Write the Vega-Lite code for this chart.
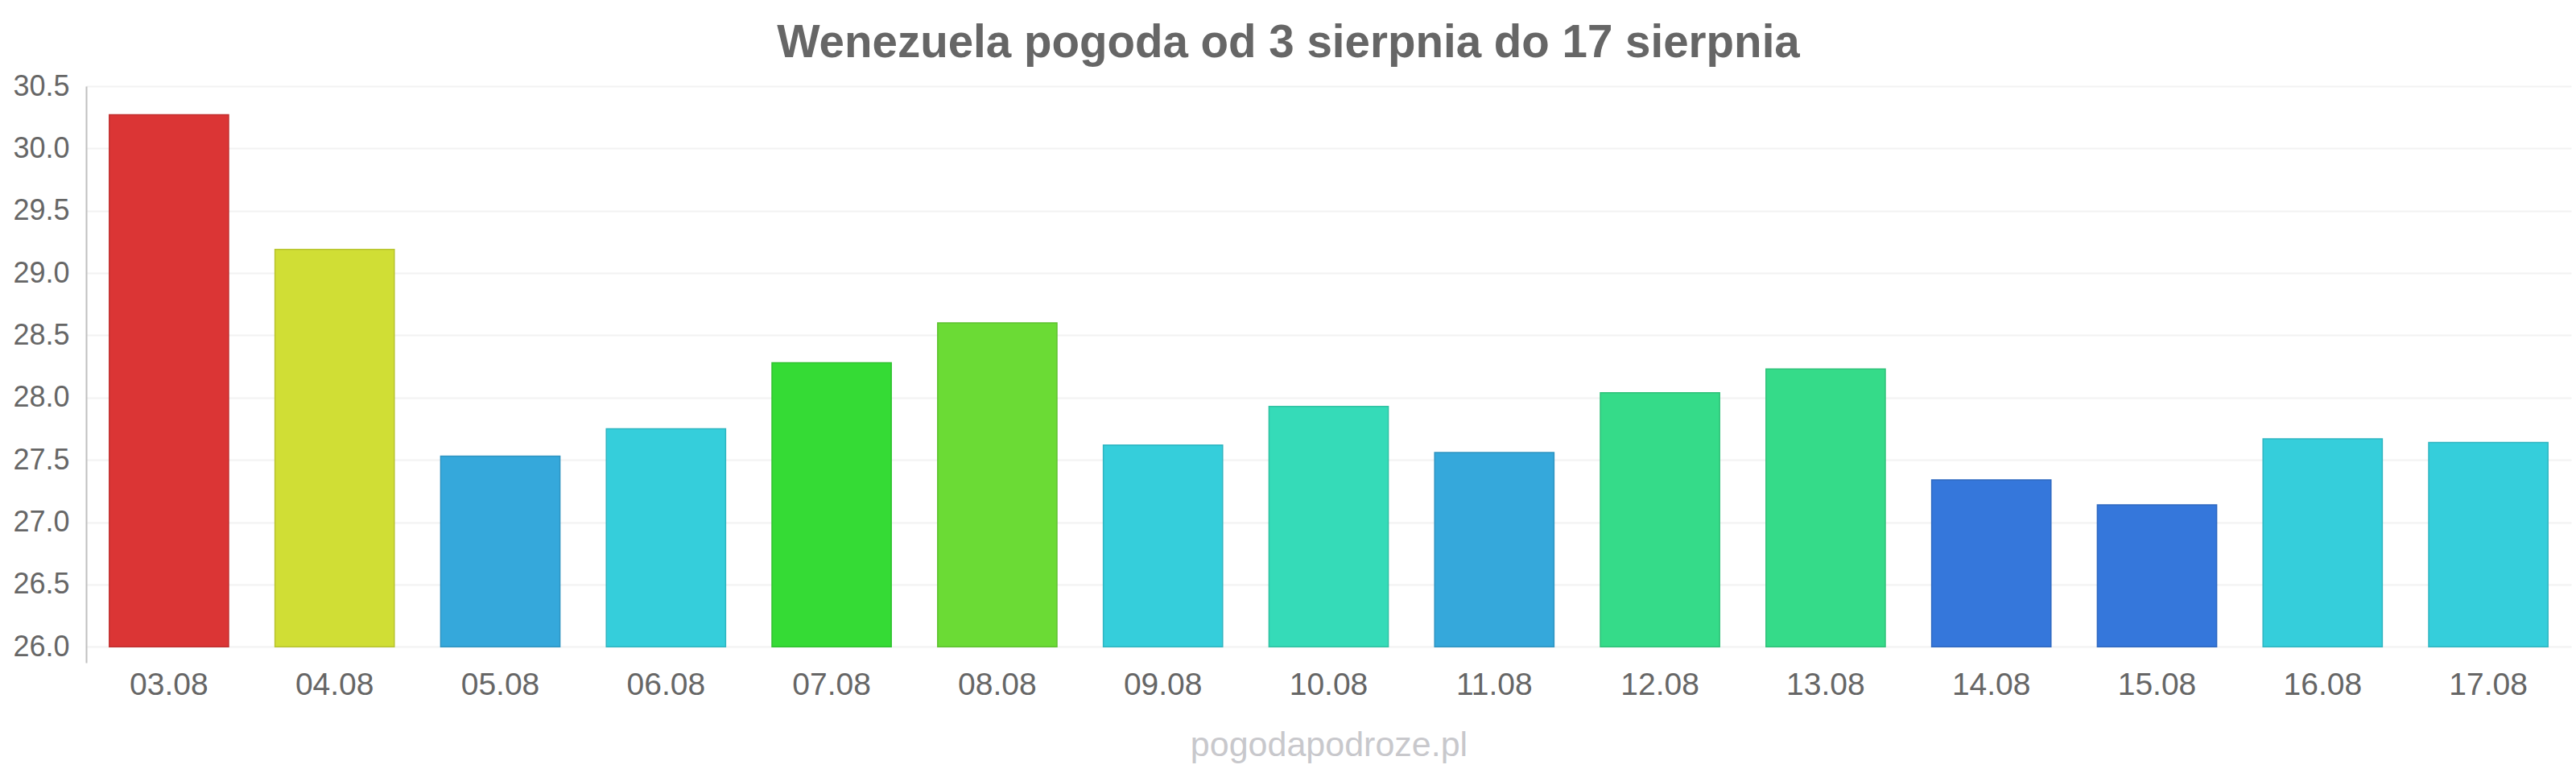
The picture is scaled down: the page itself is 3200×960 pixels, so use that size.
{
  "$schema": "https://vega.github.io/schema/vega-lite/v6.json",
  "width": 3087,
  "height": 716,
  "autosize": "none",
  "padding": {"left": 107, "top": 107, "right": 6, "bottom": 137},
  "background": "white",
  "title": {
    "text": "Wenezuela pogoda od 3 sierpnia do 17 sierpnia",
    "font": "Liberation Sans",
    "fontSize": 56.5,
    "fontWeight": "bold",
    "color": "#666666",
    "anchor": "middle",
    "frame": "group",
    "dx": -50,
    "baseline": "alphabetic",
    "offset": -38
  },
  "data": {
    "values": [
      {"date": "03.08", "temp": 30.27},
      {"date": "04.08", "temp": 29.19},
      {"date": "05.08", "temp": 27.53},
      {"date": "06.08", "temp": 27.75},
      {"date": "07.08", "temp": 28.28},
      {"date": "08.08", "temp": 28.60},
      {"date": "09.08", "temp": 27.62},
      {"date": "10.08", "temp": 27.93},
      {"date": "11.08", "temp": 27.56},
      {"date": "12.08", "temp": 28.04},
      {"date": "13.08", "temp": 28.23},
      {"date": "14.08", "temp": 27.34},
      {"date": "15.08", "temp": 27.14},
      {"date": "16.08", "temp": 27.67},
      {"date": "17.08", "temp": 27.64}
    ]
  },
  "mark": {"type": "bar", "strokeWidth": 1.5},
  "encoding": {
    "x": {
      "field": "date",
      "type": "nominal",
      "sort": null,
      "scale": {"paddingInner": 0.28, "paddingOuter": 0.14},
      "axis": {
        "title": "pogodapodroze.pl",
        "titleFont": "Liberation Sans",
        "titleFontSize": 43,
        "titleFontWeight": "normal",
        "titleColor": "#c8c8cc",
        "titlePadding": 34,
        "labelFont": "Liberation Sans",
        "labelFontSize": 39,
        "labelColor": "#666666",
        "labelAngle": 0,
        "labelPadding": 8,
        "ticks": false,
        "tickSize": 0,
        "domain": false,
        "grid": false
      }
    },
    "y": {
      "field": "temp",
      "type": "quantitative",
      "scale": {"domain": [25.873, 30.5], "nice": false, "zero": false},
      "axis": {
        "title": null,
        "values": [26, 26.5, 27, 27.5, 28, 28.5, 29, 29.5, 30, 30.5],
        "format": ".1f",
        "labelFont": "Liberation Sans",
        "labelFontSize": 36,
        "labelColor": "#666666",
        "labelPadding": 21,
        "ticks": false,
        "tickSize": 0,
        "domain": true,
        "domainColor": "#c0c0c0",
        "domainWidth": 2,
        "grid": true,
        "gridColor": "#f2f2f2",
        "gridWidth": 2
      }
    },
    "y2": {"datum": 26},
    "fill": {
      "field": "date",
      "type": "nominal",
      "legend": null,
      "scale": {
        "domain": ["03.08","04.08","05.08","06.08","07.08","08.08","09.08","10.08","11.08","12.08","13.08","14.08","15.08","16.08","17.08"],
        "range": ["#db3535","#d0de35","#35a8db","#35cedb","#35db35","#6bdb35","#35cedb","#35dbb8","#35a8db","#35db89","#35db89","#3577db","#3577db","#35cedb","#35cedb"]
      }
    },
    "stroke": {
      "field": "date",
      "type": "nominal",
      "legend": null,
      "scale": {
        "domain": ["03.08","04.08","05.08","06.08","07.08","08.08","09.08","10.08","11.08","12.08","13.08","14.08","15.08","16.08","17.08"],
        "range": ["#c12f2f","#b7c32f","#2f94c1","#2fb5c1","#2fc12f","#5ec12f","#2fb5c1","#2fc1a2","#2f94c1","#2fc179","#2fc179","#2f69c1","#2f69c1","#2fb5c1","#2fb5c1"]
      }
    }
  },
  "config": {"view": {"stroke": null}}
}
